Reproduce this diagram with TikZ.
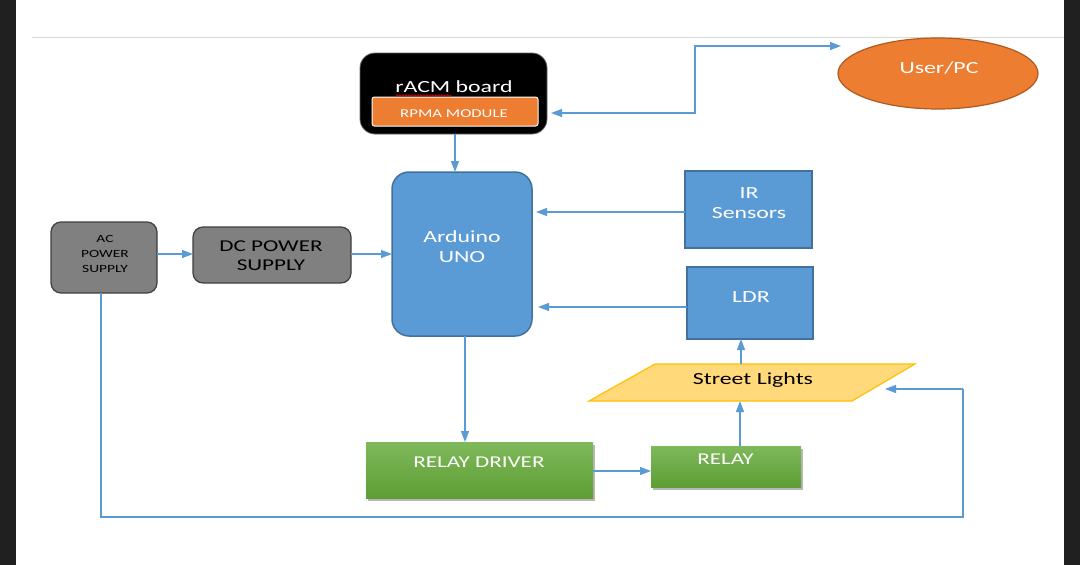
\documentclass[tikz,border=0pt]{standalone}
\usepackage{fontspec}
\setmainfont{Carlito}[FakeStretch=1.4]
\usetikzlibrary{shapes.geometric,arrows.meta,shadows,decorations.pathmorphing}
\definecolor{lnblue}{HTML}{5B9BD5}
\definecolor{bxblue}{HTML}{5B9BD5}
\definecolor{bdblue}{HTML}{41719C}
\definecolor{orng}{HTML}{ED7D31}
\definecolor{orngdk}{HTML}{AE5A21}
\definecolor{grayfill}{HTML}{808080}
\definecolor{graydk}{HTML}{3F3F3F}
\definecolor{slfill}{HTML}{FFD97A}
\definecolor{slbord}{HTML}{FFC000}
\definecolor{grtop}{HTML}{7EB95B}
\definecolor{grbot}{HTML}{5E9E34}
\definecolor{sidebar}{HTML}{202020}
\definecolor{topline}{HTML}{D9D9D9}
\tikzset{
  box/.style={inner sep=0pt, outer sep=0pt},
  arr/.style={draw=lnblue, line width=1.2pt, -{Triangle[length=11pt,width=8pt]}},
  dblarr/.style={draw=lnblue, line width=1.2pt, {Triangle[length=11pt,width=8pt]}-{Triangle[length=11pt,width=8pt]}},
  loopln/.style={draw=lnblue, line width=1.2pt},
  wtxt/.style={text=white, inner sep=0pt, anchor=base},
  btxt/.style={text=black, inner sep=0pt, anchor=base},
  big/.style={font=\fontsize{17}{20}\selectfont},
  greenbox/.style={box, top color=grtop, bottom color=grbot, draw=none,
     drop shadow={shadow xshift=1.5pt, shadow yshift=-2.5pt, opacity=0.4, fill=black!70}},
  graybox/.style={box, fill=grayfill, draw=graydk, line width=1.2pt, rounded corners=10pt},
  bluebox/.style={box, fill=bxblue, draw=bdblue, line width=2pt}
}
\begin{document}
\begin{tikzpicture}[x=1pt,y=-1pt]
\useasboundingbox (0,0) rectangle (1080,565);
\fill[white] (0,0) rectangle (1080,565);
\fill[sidebar] (0,0) rectangle (16,565);
\fill[sidebar] (1064,0) rectangle (1080,565);
\draw[topline, line width=1pt] (32,37) -- (1064,37);

% rACM board
\node[box, fill=black, draw=black!60, line width=0.8pt, rounded corners=15pt,
      minimum width=187pt, minimum height=81pt] (racm) at (453.5,93.5) {};
\node[box, fill=orng, draw=white, line width=1pt, rounded corners=2.5pt,
      minimum width=166pt, minimum height=29pt] (rpma) at (455,111.5) {};
\node[wtxt, big] (racmt) at (454,92) {rACM board};
\draw[red, line width=0.6pt, decorate, decoration={snake, amplitude=0.8pt, segment length=3pt}] (396,95.5) -- (451,95.5);
\node[wtxt, font=\fontsize{12}{14}\selectfont] (rpmat) at (454,117) {RPMA MODULE};

% User/PC
\node[ellipse, box, fill=orng, draw=orngdk, line width=1.2pt,
      minimum width=200pt, minimum height=71pt] (user) at (938,73.5) {};
\node[wtxt, big] (usert) at (939,73) {User/PC};

% Arduino
\node[box, fill=bxblue, draw=bdblue, line width=1.5pt, rounded corners=17pt,
      minimum width=140pt, minimum height=164pt] (ard) at (462,254) {};
\node[wtxt, big] (ardt1) at (462,242) {Arduino};
\node[wtxt, big] (ardt2) at (462,262) {UNO};

% IR Sensors
\node[bluebox, minimum width=127pt, minimum height=77pt] (ir) at (748.5,209.5) {};
\node[wtxt, big] (irt1) at (749,198) {IR};
\node[wtxt, big] (irt2) at (749,218) {Sensors};

% LDR
\node[bluebox, minimum width=126pt, minimum height=72pt] (ldr) at (750,303) {};
\node[wtxt, big] (ldrt) at (751,302) {LDR};

% AC power supply
\node[graybox, minimum width=106pt, minimum height=71pt] (ac) at (104,257.5) {};
\node[btxt, font=\fontsize{11}{13}\selectfont] (act1) at (105,242) {AC};
\node[btxt, font=\fontsize{11}{13}\selectfont] (act2) at (105,257) {POWER};
\node[btxt, font=\fontsize{11}{13}\selectfont] (act3) at (105,272) {SUPPLY};

% DC power supply
\node[graybox, minimum width=158pt, minimum height=56pt] (dc) at (272,255) {};
\node[btxt, font=\fontsize{16.5}{19}\selectfont] (dct1) at (271,251) {DC POWER};
\node[btxt, font=\fontsize{16.5}{19}\selectfont] (dct2) at (271,270.5) {SUPPLY};

% Street lights
\fill[slfill] (655,364) -- (915,364) -- (852,401) -- (589,401) -- cycle;
\draw[slbord, line width=1.2pt] (655,364) -- (915,364) -- (852,401) -- (589,401) -- cycle;
\node[box, minimum width=200pt, minimum height=37pt] (street) at (752,382.5) {};
\node[btxt, big] (streett) at (753,384) {Street Lights};

% Relay driver and relay
\node[greenbox, minimum width=227pt, minimum height=56pt] (rdrv) at (479.5,470) {};
\node[wtxt, font=\fontsize{16.5}{19}\selectfont] (rdrvt) at (479,467) {RELAY DRIVER};
\node[greenbox, minimum width=150pt, minimum height=41pt] (relay) at (726,466.5) {};
\node[wtxt, font=\fontsize{16.5}{19}\selectfont] (relayt) at (725.5,464) {RELAY};

% connectors
\coordinate (utip) at (841,46);
\coordinate (ucorner1) at (695,113);
\coordinate (ucorner2) at (695,46);
\draw[dblarr] ([xshift=4pt,yshift=-1.5pt]racm.east |- rpma.east) -- (ucorner1) -- (ucorner2) -- (utip);

\draw[arr] ([xshift=1.5pt]racm.south) -- ([xshift=1.5pt]racm.south |- ard.north);
\draw[arr, shorten >=4pt] ([yshift=-2.5pt]ir.west) -- ([yshift=-2.5pt]ir.west -| ard.east);
\draw[arr, shorten >=6pt] ([yshift=-4pt]ldr.west) -- ([yshift=-4pt]ldr.west -| ard.east);
\draw[arr] ([xshift=-9pt]ldr.south |- street.north) -- ([xshift=-9pt]ldr.south);
\draw[arr] ([xshift=14pt]relay.north) -- ([xshift=14pt]relay.north |- street.south);
\draw[arr] ([xshift=3pt]ard.south) -- ([xshift=3pt]ard.south |- rdrv.north);
\draw[arr] ([yshift=-1pt]rdrv.east) -- ([yshift=-1pt]rdrv.east -| relay.west);
\draw[arr] ([yshift=3.5pt]ac.east) -- ([yshift=3.5pt]ac.east -| dc.west);
\draw[arr] ([yshift=1pt]dc.east) -- ([yshift=1pt]dc.east -| ard.west);

\coordinate (lp1) at (101,517);
\coordinate (lp2) at (963,517);
\coordinate (lp3) at (963,389);
\coordinate (sltip) at (885,389);
\draw[loopln] ([xshift=-3pt]ac.south) -- (lp1) -- (lp2) -- (lp3);
\draw[arr] (lp3) -- (sltip);
\end{tikzpicture}
\end{document}
